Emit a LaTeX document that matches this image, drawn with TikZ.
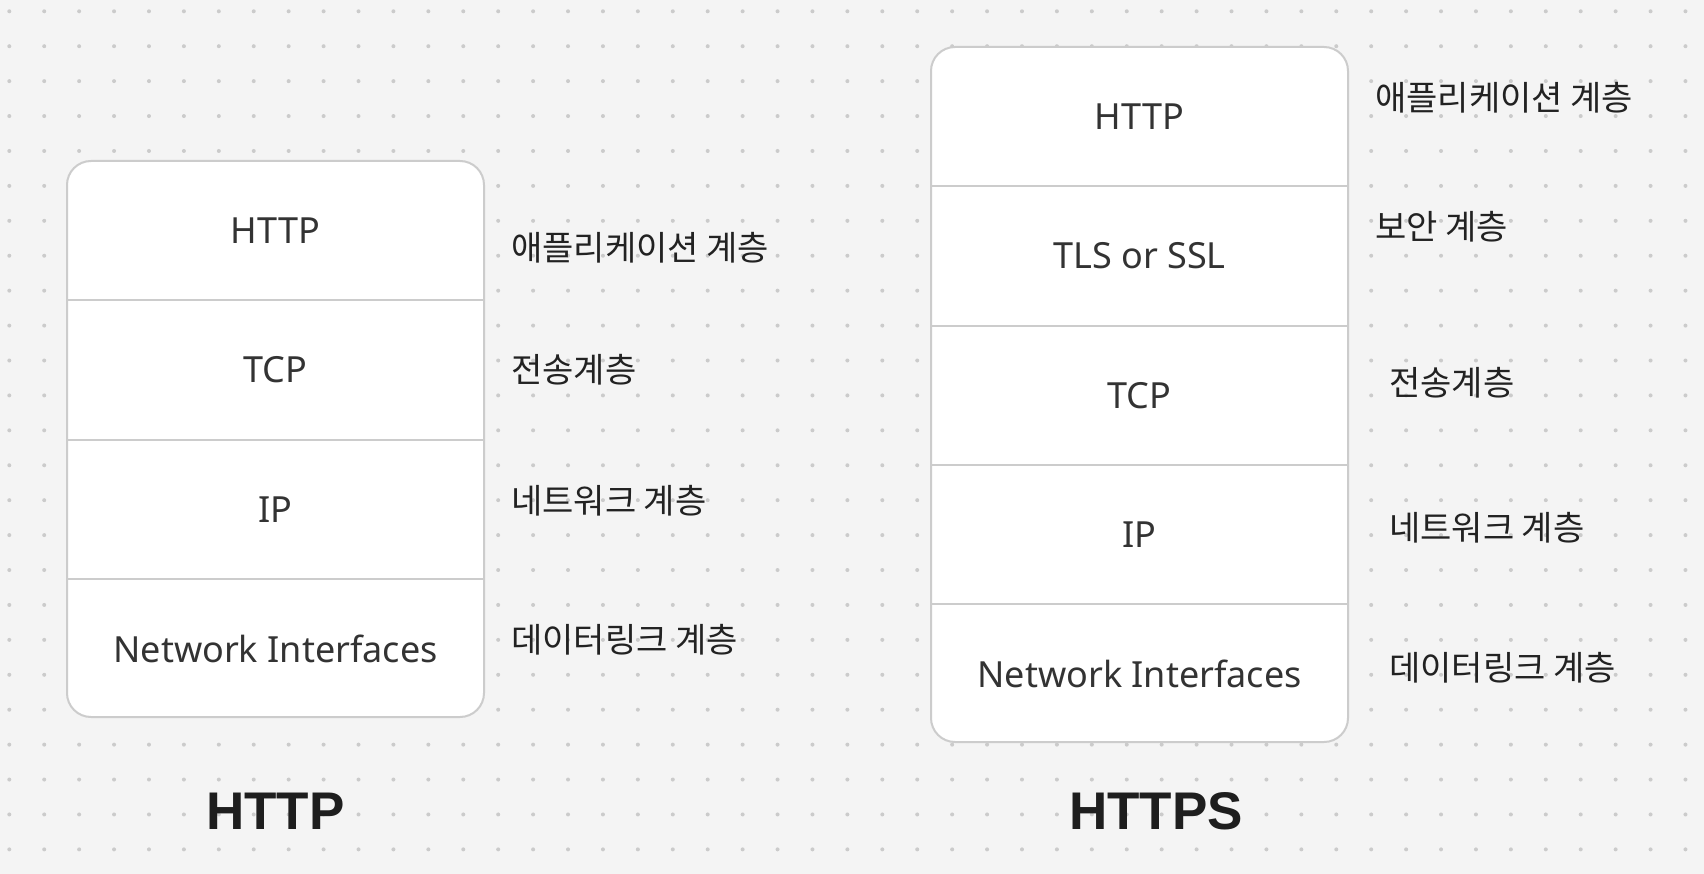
\documentclass[tikz,border=0pt]{standalone}
\usepackage{fontspec}
\setmainfont{Noto Sans}
\newfontfamily\kofont{Noto Sans CJK KR}
\newfontfamily\titlefont{Liberation Sans}
\usetikzlibrary{positioning}
\definecolor{canvas}{HTML}{F4F4F4}
\definecolor{griddot}{HTML}{CBCBCB}
\definecolor{frameline}{HTML}{CCCCCC}
\definecolor{layertext}{HTML}{333333}
\definecolor{labeltext}{HTML}{222222}
\definecolor{titletext}{HTML}{1E1E1E}

\tikzset{
  frame/.style={draw=frameline,line width=2pt,fill=white,rounded corners=24pt},
  sep/.style={draw=frameline,line width=2pt},
  layer/.style={minimum width=417pt,minimum height=139pt,inner sep=0pt,
    text=layertext,font=\fontsize{36}{44}\selectfont},
  layerlabel/.style={anchor=west,inner sep=0pt,text=labeltext,
    font=\kofont\fontsize{34}{40}\selectfont},
  stacktitle/.style={text=titletext,font=\titlefont\bfseries\fontsize{53}{60}\selectfont}
}

\begin{document}
\begin{tikzpicture}[x=1pt,y=-1pt]
  % canvas and dot grid
  \fill[canvas] (0,0) rectangle (1704,874);
  \useasboundingbox (0,0) rectangle (1704,874);
  \foreach \i in {0,...,48}
    \foreach \j in {0,...,24}
      \fill[griddot] (9.3+34.92*\i,11.3+34.92*\j) circle (2);

  % HTTP stack
  \draw[frame] (67,161) rectangle (484,717);
  \node[layer] (l-http) at (275.5,230.5) {HTTP};
  \node[layer,below=0pt of l-http] (l-tcp) {TCP};
  \node[layer,below=0pt of l-tcp] (l-ip) {IP};
  \node[layer,below=0pt of l-ip] (l-net) {Network Interfaces};
  \foreach \n in {l-tcp,l-ip,l-net}
    \draw[sep] (\n.north west) -- (\n.north east);

  \node[layerlabel] (l-app-lbl) at (511,248) {애플리케이션 계층};
  \node[layerlabel] (l-tcp-lbl) at (511,370) {전송계층};
  \node[layerlabel] (l-ip-lbl) at (511,501) {네트워크 계층};
  \node[layerlabel] (l-net-lbl) at (511,640) {데이터링크 계층};

  \node[stacktitle] (l-title) at (275.5,811) {HTTP};

  % HTTPS stack
  \draw[frame] (931,47) rectangle (1348,742);
  \node[layer] (r-http) at (1139.5,116.5) {HTTP};
  \node[layer,below=0pt of r-http] (r-tls) {TLS or SSL};
  \node[layer,below=0pt of r-tls] (r-tcp) {TCP};
  \node[layer,below=0pt of r-tcp] (r-ip) {IP};
  \node[layer,below=0pt of r-ip] (r-net) {Network Interfaces};
  \foreach \n in {r-tls,r-tcp,r-ip,r-net}
    \draw[sep] (\n.north west) -- (\n.north east);

  \node[layerlabel] (r-app-lbl) at (1375,98) {애플리케이션 계층};
  \node[layerlabel] (r-tls-lbl) at (1375,227) {보안 계층};
  \node[layerlabel] (r-tcp-lbl) at (1389,383) {전송계층};
  \node[layerlabel] (r-ip-lbl) at (1389,528) {네트워크 계층};
  \node[layerlabel] (r-net-lbl) at (1389,668) {데이터링크 계층};

  \node[stacktitle] (r-title) at (1156,811) {HTTPS};
\end{tikzpicture}
\end{document}
